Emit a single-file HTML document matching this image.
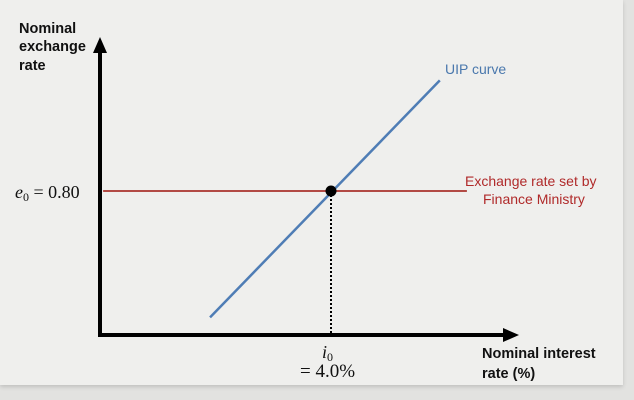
<!DOCTYPE html>
<html><head><meta charset="utf-8"><style>
html,body{margin:0;padding:0;width:634px;height:400px;overflow:hidden;background:#e2e2e0;font-family:"Liberation Sans",sans-serif}
#panel{position:absolute;left:0;top:0;width:623px;height:385px;background:#efefed;box-shadow:0 2px 4px rgba(0,0,0,.15)}
svg{position:absolute;left:0;top:0}
</style></head><body>
<div id="panel"></div>
<svg id="chart" width="634" height="400">
  <g font-weight="bold" font-size="14.5" fill="#111">
    <text x="19" y="33">Nominal</text><text x="19" y="51">exchange</text><text x="19" y="70">rate</text>
  </g>
  <g font-weight="bold" font-size="14.5" fill="#111">
    <text x="482" y="358">Nominal interest</text><text x="482" y="378">rate (%)</text>
  </g>
  <line x1="100" y1="337" x2="100" y2="52" stroke="#000" stroke-width="4"/>
  <polygon points="100,37 93,53 107,53" fill="#000"/>
  <line x1="98" y1="335" x2="505" y2="335" stroke="#000" stroke-width="4"/>
  <polygon points="519,335 503,328 503,342" fill="#000"/>
  <g id="marks"></g>
  <text x="465" y="186" fill="#b02a2a" font-size="14">Exchange rate set by</text>
  <text x="483" y="204" fill="#b02a2a" font-size="14">Finance Ministry</text>
  <text x="445" y="74" fill="#4a78ad" font-size="14">UIP curve</text>
  <text x="15" y="198" font-family="Liberation Serif,serif" font-size="18" fill="#111"><tspan font-style="italic">e</tspan><tspan font-size="12" dy="3">0</tspan><tspan dy="-3"> = 0.80</tspan></text>
  <text x="322" y="358" font-family="Liberation Serif,serif" font-size="18" fill="#111"><tspan font-style="italic">i</tspan><tspan font-size="12" dy="3">0</tspan></text>
  <text x="300" y="377" font-family="Liberation Serif,serif" font-size="19" fill="#111">= 4.0%</text>
</svg>
<script>
const eqRate=[4.0];
const eqExchange=[0.80];
const uipRates=[1.41,6.33];
const uipExch=[0.08,1.43];
const fixedRange=[-0.88,6.91];
function xs(v){return 331+(v-4.0)*46.7;}
function ys(v){return 191-(v-0.80)*175.6;}
const g=document.getElementById('marks');
const NS='http://www.w3.org/2000/svg';
function mk(t,a){const e=document.createElementNS(NS,t);for(const k in a)e.setAttribute(k,a[k]);g.appendChild(e);return e;}
const fl=mk('line',{x1:xs(fixedRange[0]),y1:ys(eqExchange[0]),x2:xs(fixedRange[1]),y2:ys(eqExchange[0]),stroke:'#b24a44','stroke-width':2});


const ul=mk('line',{x1:xs(uipRates[0]),y1:ys(uipExch[0]),x2:xs(uipRates[1]),y2:ys(uipExch[1]),stroke:'#4f7db5','stroke-width':2.5});


const dl=mk('line',{x1:xs(eqRate[0]),y1:ys(eqExchange[0]),x2:xs(eqRate[0]),y2:333,stroke:'#000','stroke-width':2,'stroke-dasharray':'2 2'});


const pt=mk('circle',{cx:xs(eqRate[0]),cy:ys(eqExchange[0]),r:5.5,fill:'#000'});


</script>
</body></html>
